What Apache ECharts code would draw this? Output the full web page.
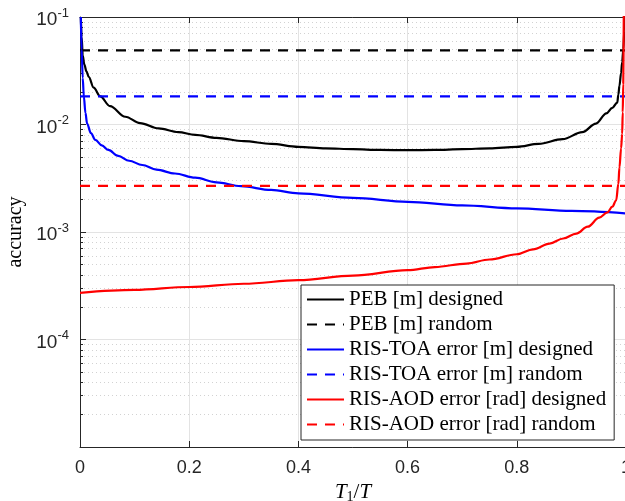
<!DOCTYPE html>
<html>
<head>
<meta charset="utf-8">
<script src="https://cdn.jsdelivr.net/npm/echarts@6/dist/echarts.min.js"></script>
<style>
html, body { margin: 0; padding: 0; background: #fff; }
#main { width: 625px; height: 501px; }
</style>
</head>
<body>
<div id="main"></div>
<script>
// values
var seriesNames = [
    'PEB [m] designed', 'PEB [m] random',
    'RIS-TOA error [m] designed', 'RIS-TOA error [m] random',
    'RIS-AOD error [rad] designed', 'RIS-AOD error [rad] random'
];

var pebDesignedX = [0.0015, 0.003, 0.005, 0.008, 0.012, 0.016, 0.025, 0.037, 0.055, 0.083, 0.11, 0.144, 0.18, 0.211, 0.25, 0.3, 0.35, 0.4, 0.45, 0.5, 0.55, 0.6, 0.65, 0.7, 0.75, 0.8, 0.84, 0.884, 0.92, 0.945, 0.964, 0.975, 0.984, 0.986, 0.988, 0.991, 0.993, 0.995, 0.997, 0.998];
var pebDesignedY = [0.1, 0.065, 0.044, 0.036, 0.031, 0.0277, 0.022, 0.0183, 0.0148, 0.0118, 0.0103, 0.0092, 0.0085, 0.0080, 0.0075, 0.0070, 0.0066, 0.0062, 0.0060, 0.0059, 0.0058, 0.00577, 0.0058, 0.0059, 0.0060, 0.0062, 0.0066, 0.0073, 0.0085, 0.0102, 0.0127, 0.0143, 0.0160, 0.019, 0.023, 0.030, 0.038, 0.050, 0.075, 0.12];

var toaDesignedX = [0.0015, 0.003, 0.005, 0.007, 0.01, 0.013, 0.02, 0.028, 0.04, 0.052, 0.07, 0.09, 0.114, 0.14, 0.174, 0.211, 0.25, 0.295, 0.35, 0.4, 0.5, 0.6, 0.7, 0.8, 0.9, 1.0];
var toaDesignedY = [0.1, 0.05, 0.027, 0.0183, 0.0128, 0.0102, 0.0083, 0.0072, 0.0064, 0.0058, 0.0051, 0.0046, 0.0042, 0.0038, 0.0035, 0.0032, 0.0029, 0.00267, 0.00246, 0.00229, 0.00208, 0.00191, 0.00177, 0.00166, 0.00157, 0.00149];

var aodDesignedX = [0, 0.1, 0.2, 0.3, 0.4, 0.5, 0.6, 0.65, 0.708, 0.75, 0.8, 0.83, 0.86, 0.885, 0.909, 0.93, 0.951, 0.966, 0.975, 0.982, 0.986, 0.988, 0.991, 0.993, 0.994, 0.995, 0.996];
var aodDesignedY = [0.000272, 0.000289, 0.000308, 0.00033, 0.000356, 0.000393, 0.000441, 0.000472, 0.000509, 0.000555, 0.000621, 0.00069, 0.00078, 0.00087, 0.000966, 0.00112, 0.00136, 0.00152, 0.00172, 0.00197, 0.0028, 0.0040, 0.0060, 0.0082, 0.013, 0.024, 0.12];

var randomX = [0, 1];
var pebRandom = 0.049;
var toaRandom = 0.0183;
var aodRandom = 0.00269;

var xTicks = [0, 0.2, 0.4, 0.6, 0.8, 1];
var yMin = 1e-5, yMax = 1e-1;

function zip(xs, ys) {
    return xs.map(function (x, i) { return [x, ys[i]]; });
}
function flat(xs, v) {
    return xs.map(function (x) { return [x, v]; });
}

// minor log ticks 2..9 per decade
var minorTicks = [];
for (var e = -5; e < -1; e++) {
    for (var m = 2; m <= 9; m++) minorTicks.push(m * Math.pow(10, e));
}

var axisColor = '#262626';
var serif = 'Liberation Serif';

function line(name, data, color, dashed) {
    return {
        name: name,
        type: 'line',
        data: data,
        symbol: 'none',
        showSymbol: false,
        smooth: dashed ? false : 0.35,
        smoothMonotone: 'x',
        lineStyle: { color: color, width: 2.2, type: dashed ? [10, 8] : 'solid' },
        itemStyle: { color: color },
        animation: false
    };
}

var myChart = echarts.init(document.getElementById('main'));

var option = {
    backgroundColor: '#fff',
    animation: false,
    grid: { left: 80, top: 17, width: 546, height: 430, outerBoundsMode: 'none', containLabel: false },
    legend: {
        orient: 'vertical',
        left: 301,
        top: 285,
        padding: [4, 8, 5, 5],
        itemWidth: 37,
        itemHeight: 12,
        itemGap: 4,
        borderColor: axisColor,
        borderWidth: 1,
        backgroundColor: '#fff',
        itemStyle: { opacity: 0 },
        textStyle: { fontFamily: serif, fontSize: 21, color: '#000', lineHeight: 21 },
        data: seriesNames
    },
    xAxis: [{
        type: 'value',
        min: 0,
        max: 1,
        interval: 0.2,
        name: '{i|T}{sub|1}{r|/}{i|T}',
        nameLocation: 'middle',
        nameGap: 32,
        nameTextStyle: {
            rich: {
                i: { fontFamily: serif, fontStyle: 'italic', fontSize: 21, color: '#000' },
                r: { fontFamily: serif, fontSize: 21, color: '#000' },
                sub: { fontFamily: serif, fontSize: 14, color: '#000', padding: [10, 0, 0, 0] }
            }
        },
        axisLine: { lineStyle: { color: axisColor, width: 1 } },
        axisTick: { inside: true, length: 6, lineStyle: { color: axisColor } },
        axisLabel: {
            margin: 12,
            fontFamily: 'Liberation Sans',
            fontSize: 18,
            color: axisColor,
            formatter: function (v) { return xTicks.indexOf(v) >= 0 ? String(v) : ''; }
        },
        splitLine: { show: true, lineStyle: { color: '#e3e3e3', width: 1 } }
    }, {
        type: 'value',
        position: 'top',
        min: 0,
        max: 1,
        interval: 0.2,
        axisLine: { show: true, lineStyle: { color: axisColor, width: 1 } },
        axisTick: { show: true, inside: true, length: 6, lineStyle: { color: axisColor } },
        axisLabel: { show: false },
        splitLine: { show: false }
    }],
    yAxis: [{
        type: 'log',
        logBase: 10,
        min: yMin,
        max: yMax,
        name: 'accuracy',
        nameLocation: 'middle',
        nameGap: 50,
        nameTextStyle: { fontFamily: serif, fontSize: 20, color: '#000' },
        axisLine: { show: true, lineStyle: { color: axisColor, width: 1 } },
        axisTick: { inside: true, length: 6, lineStyle: { color: axisColor } },
        axisLabel: {
            margin: 11,
            color: axisColor,
            formatter: function (v) {
                var ex = Math.round(Math.log10(v));
                if (ex <= -5) return '';
                return '{b|10}{s|' + ex + '}';
            },
            rich: {
                b: { fontFamily: 'Liberation Sans', fontSize: 19, color: axisColor, padding: [6, 0, 0, 0] },
                s: { fontFamily: 'Liberation Sans', fontSize: 13, color: axisColor, padding: [0, 0, 8, 0] }
            }
        },
        splitLine: { show: true, lineStyle: { color: '#e3e3e3', width: 1 } }
    }, {
        type: 'log',
        logBase: 10,
        min: yMin,
        max: yMax,
        position: 'left',
        axisLine: { show: false },
        axisTick: { show: true, inside: true, length: 3, customValues: minorTicks, lineStyle: { color: axisColor } },
        axisLabel: { show: false },
        splitLine: { show: true, lineStyle: { color: '#d2d2d2', width: 1, type: [1, 3] } }
    }],
    series: [
        line(seriesNames[0], zip(pebDesignedX, pebDesignedY), '#000000', false),
        line(seriesNames[1], flat(randomX, pebRandom), '#000000', true),
        line(seriesNames[2], zip(toaDesignedX, toaDesignedY), '#0000ff', false),
        line(seriesNames[3], flat(randomX, toaRandom), '#0000ff', true),
        line(seriesNames[4], zip(aodDesignedX, aodDesignedY), '#ff0000', false),
        line(seriesNames[5], flat(randomX, aodRandom), '#ff0000', true)
    ]
};

myChart.setOption(option);
</script>
</body>
</html>
